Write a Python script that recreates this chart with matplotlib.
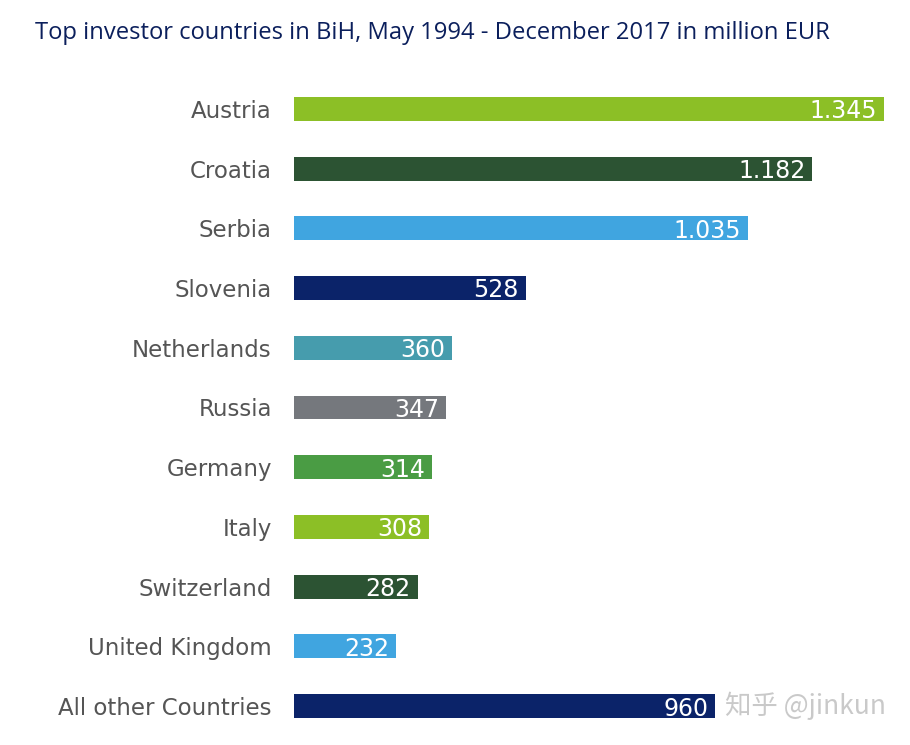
import matplotlib.pyplot as plt

# data (million EUR)
countries = ["Austria", "Croatia", "Serbia", "Slovenia", "Netherlands", "Russia",
             "Germany", "Italy", "Switzerland", "United Kingdom", "All other Countries"]
values = [1345, 1182, 1035, 528, 360, 347, 314, 308, 282, 232, 960]
value_labels = ["1.345", "1.182", "1.035", "528", "360", "347",
                "314", "308", "282", "232", "960"]
bar_colors = ["#8cbf26", "#2c5333", "#40a5e0", "#0b2369", "#469cad", "#75787d",
              "#4a9c44", "#8cbf26", "#2c5333", "#40a5e0", "#0b2369"]

fig = plt.figure(figsize=(9.1, 7.45), dpi=100)
ax = fig.add_axes([294 / 910, 1 - 736 / 745, 590 / 910, 657 / 745])

ypos = list(range(len(countries)))
ax.barh(ypos, values, height=0.4, color=bar_colors)

for y, v, lab in zip(ypos, values, value_labels):
    ax.text(v - 16, y + 0.04, lab, ha="right", va="center", color="white",
            fontsize=17, family="DejaVu Sans")

ax.set_yticks(ypos)
ax.set_yticklabels(countries, fontsize=16.5, color="#555555", family="DejaVu Sans")
ax.tick_params(axis="y", length=0, pad=16)
ax.set_xticks([])
ax.set_xlim(0, 1345)
ax.set_ylim(len(countries) - 0.5, -0.5)
for side in ax.spines.values():
    side.set_visible(False)

fig.text(35 / 910, 1 - 33 / 745, "Top investor countries in BiH, May 1994 - December 2017 in million EUR",
         fontsize=17.1, color="#0b1f5c", family="Open Sans", va="center", ha="left")

# watermark in the reference
fig.text(886 / 910, 1 - 706 / 745, "知乎 @jinkun", fontsize=19, color="#c4c4c4",
         family=["Noto Sans CJK SC", "DejaVu Sans"], ha="right", va="center", alpha=0.9)

fig.savefig("out.png", dpi=100)
